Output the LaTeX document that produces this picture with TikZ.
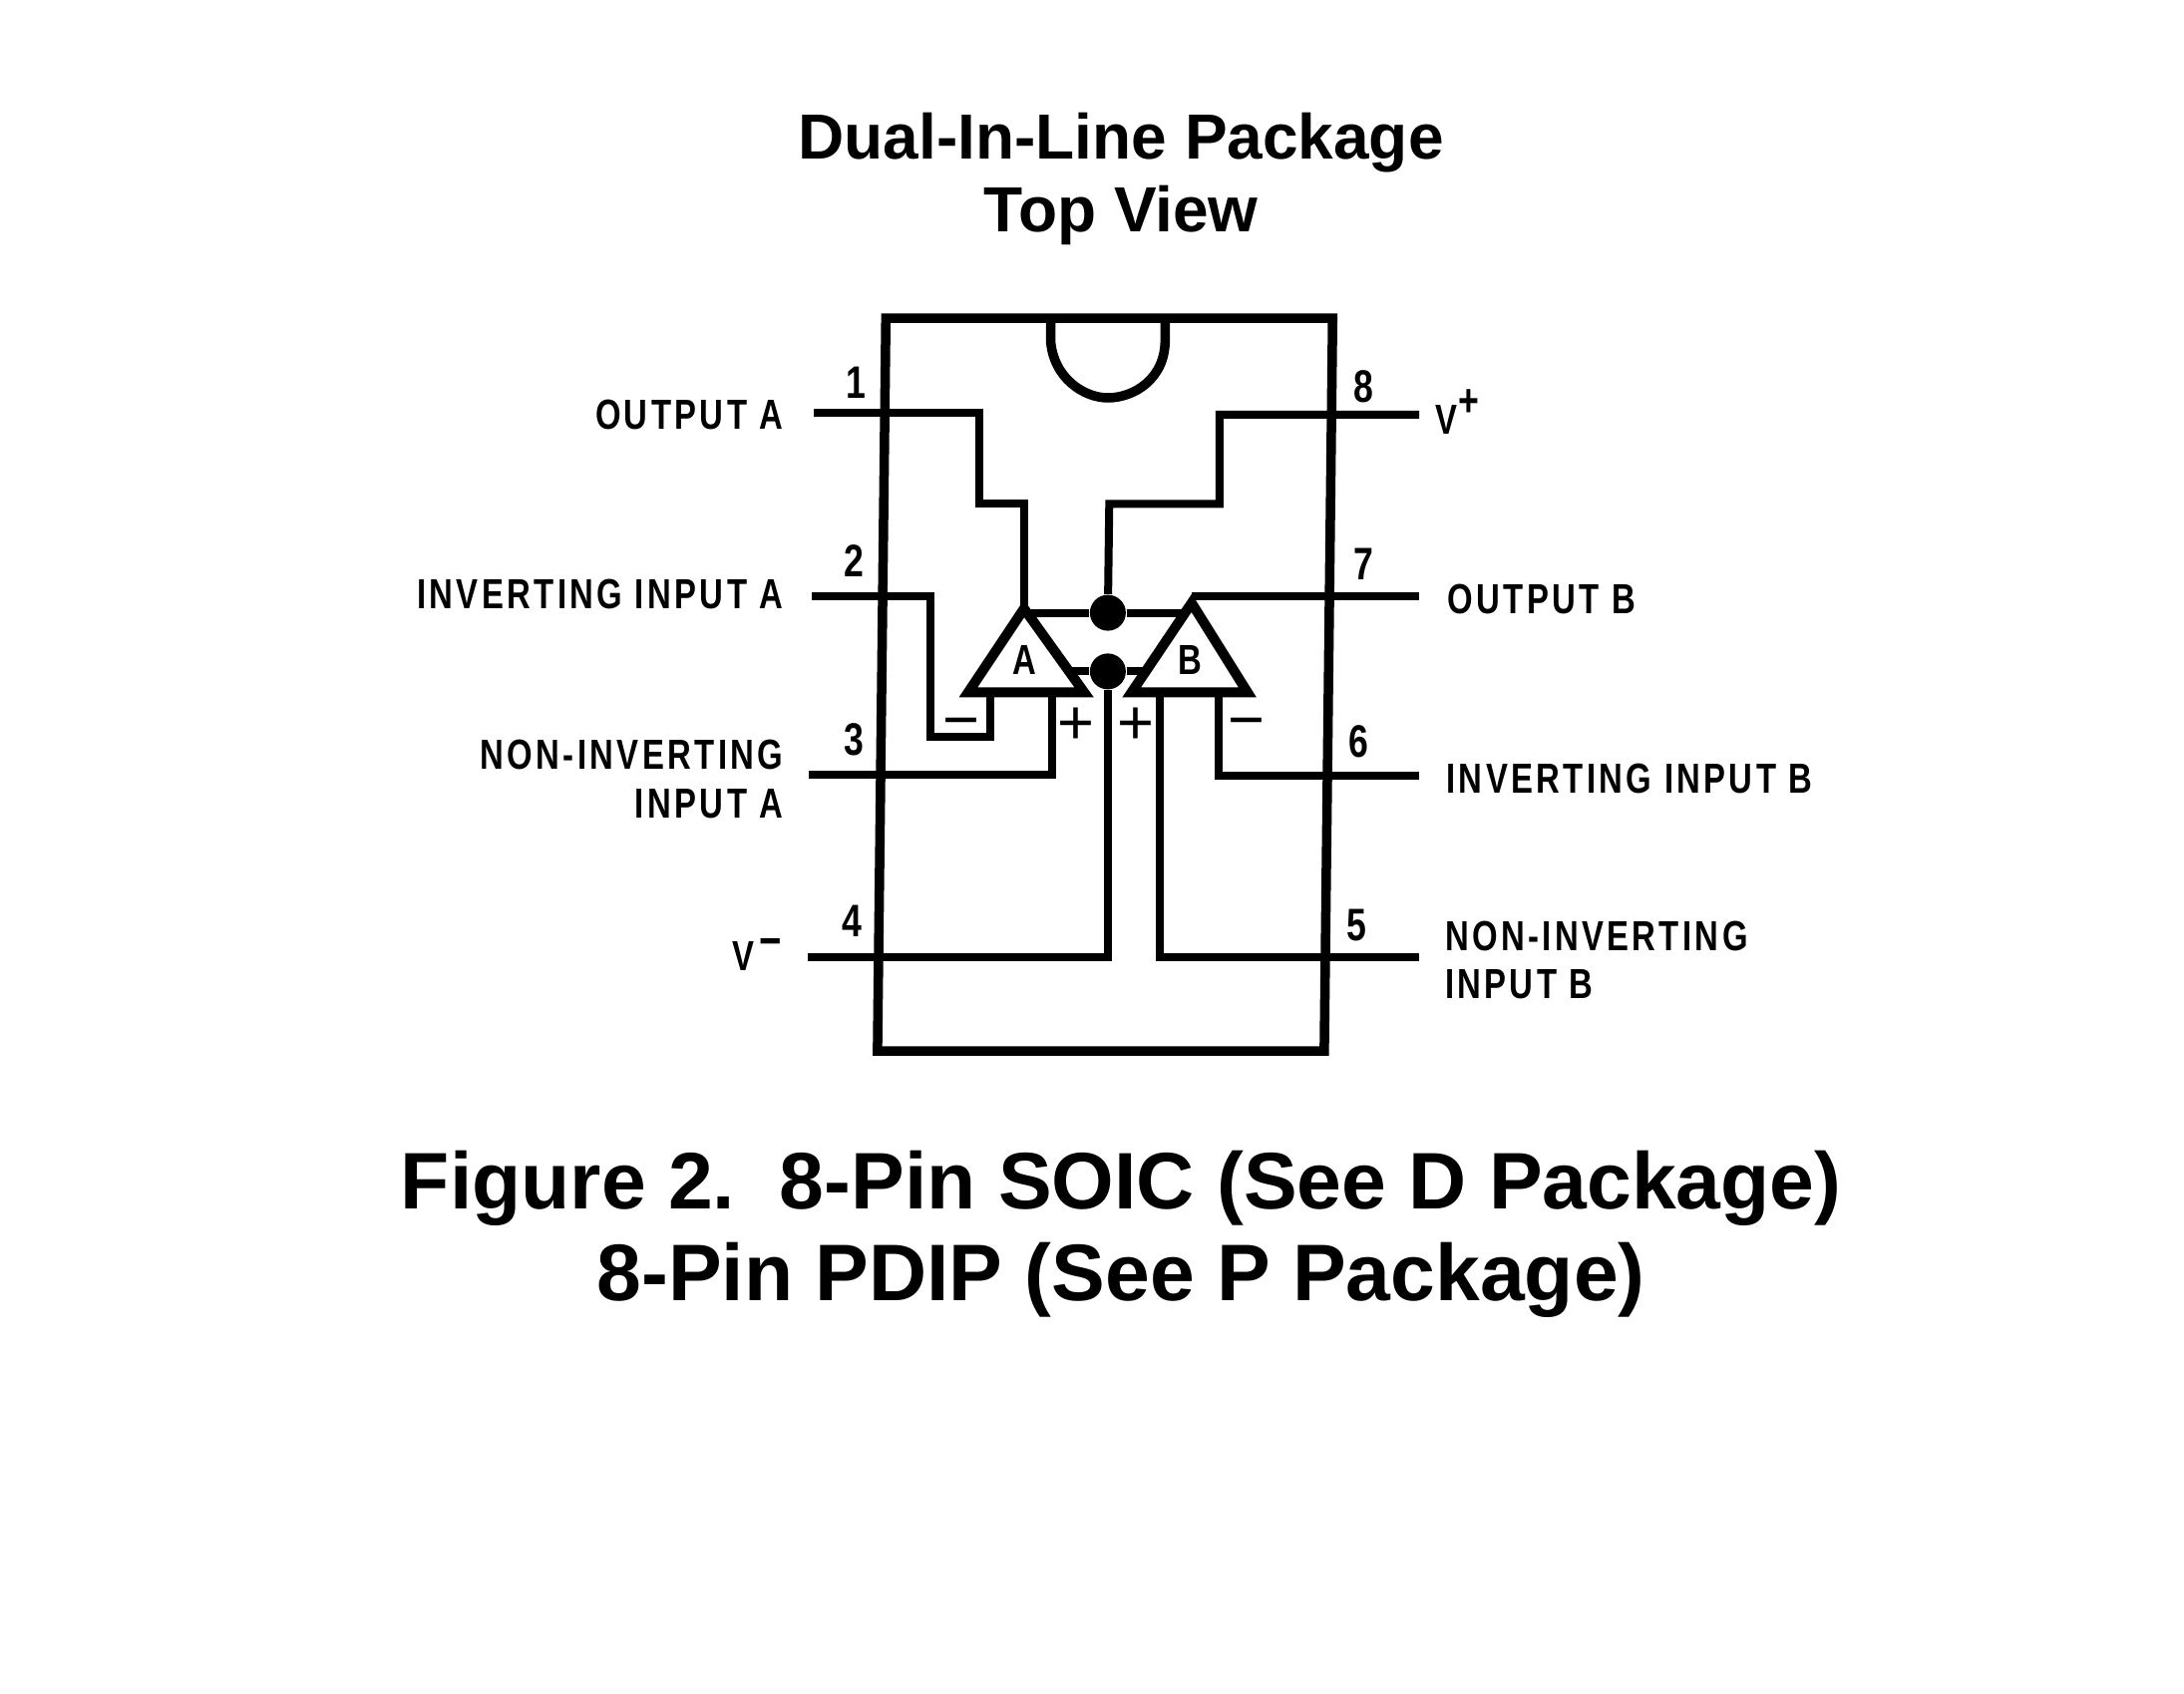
\documentclass[tikz,border=0pt]{standalone}
\usepackage{fontspec}
\setmainfont{Liberation Sans}
\newfontfamily\pinfont[FakeStretch=0.78,LetterSpace=8]{Liberation Sans}
\tikzset{
    wire/.style={line width=0.8mm},
    outline/.style={line width=0.95mm, line join=miter},
    amp/.style={line width=1mm, line join=miter, fill=white},
    pinlabel/.style={inner sep=0pt, font=\pinfont\bfseries\fontsize{12}{15}\selectfont},
    pinnum/.style={inner sep=0pt, font=\pinfont\bfseries\fontsize{13}{15}\selectfont},
    sign/.style={inner sep=0pt, font=\fontsize{18}{18}\selectfont},
    junction/.style={circle, fill=black, inner sep=0pt, minimum size=3.6mm}
}
\begin{document}
\begin{tikzpicture}[x=0.14mm, y=-0.14mm]
    \useasboundingbox (1.5,1) rectangle (1565.8,1213.9);

    % Title and caption
    \node[align=center, inner sep=0pt, font=\bfseries\fontsize{18.2}{20.7}\selectfont] (title) at (804.5,129) {Dual-In-Line Package\\Top View};
    \node[align=center, inner sep=0pt, font=\bfseries\fontsize{22.9}{26.3}\selectfont] (caption) at (804.5,885) {Figure 2.\ \ 8-Pin SOIC (See D Package)\\8-Pin PDIP (See P Package)};

    % Package body with its notch
    \draw[outline] (636,229) -- (956,229) -- (950,754) -- (630,754) -- cycle;
    \draw[outline] (754,232) -- (754,245) .. controls (756,272) and (778,286) .. (795,286) .. controls (814,286) and (836,272) .. (836,245) -- (836,232);

    % Outer ends of the pins
    \coordinate (p1) at (584,297);
    \coordinate (p2) at (583,428);
    \coordinate (p3) at (581,556);
    \coordinate (p4) at (580,687);
    \coordinate (p5) at (1018,687);
    \coordinate (p6) at (1018,557);
    \coordinate (p7) at (1018,428);
    \coordinate (p8) at (1018,298);

    % Corners of the two amplifiers
    \coordinate (atop) at (735,437);
    \coordinate (aleft) at (695,497);
    \coordinate (aright) at (778,497);
    \coordinate (btop) at (855,433);
    \coordinate (btip) at (855,428);
    \coordinate (bleft) at (812,497);
    \coordinate (bright) at (895,497);

    % Supply junctions
    \node[junction] (vcc) at (795,440) {};
    \node[junction] (vee) at (795,482) {};

    % Supply rails
    \draw[wire] (740,440) -- (vcc) -- (850,440);
    \draw[wire] (760,482) -- (vee) -- (825,482);

    % Wires from the pins
    \draw[wire] (p1) -- (703,297) -- (703,362) -- (735,362) -- (atop);
    \draw[wire] (p8) -- (875,298) -- (875,362) -- (796,362) -- (vcc);
    \draw[wire] (p2) -- (668,428) -- (668,529) -- (711,529) -- (711,497);
    \draw[wire] (p3) -- (755,556) -- (755,497);
    \draw[wire] (p4) -- (795,687) -- (vee);
    \draw[wire] (p5) -- (832,687) -- (832,497);
    \draw[wire] (p6) -- (874,557) -- (874,497);
    \draw[wire] (p7) -- (btip);

    % Amplifiers
    \draw[amp] (atop) -- (aright) -- (aleft) -- cycle;
    \draw[amp] (btop) -- (bright) -- (bleft) -- cycle;
    \node[pinlabel] (ampa) at (735,474) {A};
    \node[pinlabel] (ampb) at (854,474) {B};

    % Input signs
    \node[sign] (minusa) at (690,524) {−};
    \node[sign] (plusa) at (772,521) {+};
    \node[sign] (plusb) at (815,521) {+};
    \node[sign] (minusb) at (894,524) {−};

    % Pin numbers
    \node[pinnum] (n1) at (615,275) {1};
    \node[pinnum] (n2) at (613,403) {2};
    \node[pinnum] (n3) at (613,531) {3};
    \node[pinnum] (n4) at (612,661) {4};
    \node[pinnum] (n5) at (973,664) {5};
    \node[pinnum] (n6) at (975,532) {6};
    \node[pinnum] (n7) at (978,405) {7};
    \node[pinnum] (n8) at (978,278) {8};

    % Pin names
    \node[pinlabel, anchor=east] (outa) at (563,298) {OUTPUT A};
    \node[pinlabel, anchor=east] (inva) at (563,427) {INVERTING INPUT A};
    \node[pinlabel, anchor=east] (nona) at (563,542) {NON-INVERTING};
    \node[pinlabel, anchor=east] (nona2) at (563,577) {INPUT A};
    \node[pinlabel, anchor=east] (vminus) at (562,685) {V\kern1.5pt\raisebox{3.5pt}{\fontsize{14}{14}\selectfont −}};
    \node[pinlabel, anchor=west] (vplus) at (1029,296) {V\kern0.5pt\raisebox{5pt}{\fontsize{13}{13}\selectfont +}};
    \node[pinlabel, anchor=west] (outb) at (1038,430) {OUTPUT B};
    \node[pinlabel, anchor=west] (invb) at (1037,559) {INVERTING INPUT B};
    \node[pinlabel, anchor=west] (nonb) at (1036,672) {NON-INVERTING};
    \node[pinlabel, anchor=west] (nonb2) at (1036,706) {INPUT B};
\end{tikzpicture}
\end{document}
